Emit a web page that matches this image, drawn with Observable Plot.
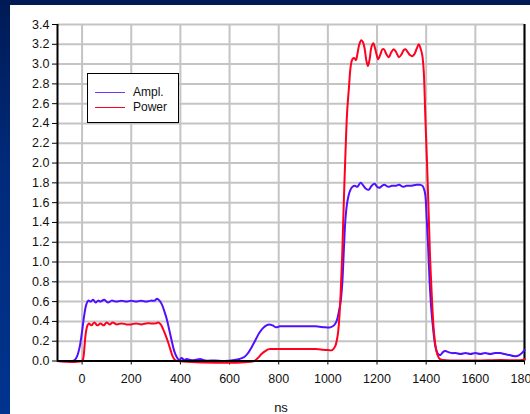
<!DOCTYPE html>
<html>
<head>
<meta charset="utf-8">
<script src="https://cdn.jsdelivr.net/npm/d3@7"></script>
<script src="https://cdn.jsdelivr.net/npm/@observablehq/plot@0.6"></script>
<style>
  html, body { margin: 0; padding: 0; }
  body {
    width: 530px; height: 414px; overflow: hidden; position: relative;
    background: linear-gradient(180deg, #001a55 0%, #002a7a 40%, #00348f 100%);
    font-family: "Liberation Sans", Arial, sans-serif;
  }
  #panel { position: absolute; left: 10px; top: 5px; width: 520px; height: 409px; background: white; overflow: visible; }
  #xlabel { position: absolute; left: 231px; top: 400px; width: 100px; text-align: center; font-size: 13px; line-height: 16px; color: #111; }
  #legend { position: absolute; left: 87px; top: 73px; width: 92px; height: 50px; box-sizing: border-box; border: 1.5px solid #000; background: white; }
  .lg-line { position: absolute; left: 7px; width: 30px; height: 1.5px; }
  .lg-text { position: absolute; left: 45px; font-size: 12px; line-height: 14px; color: #111; }
</style>
</head>
<body>
<div id="panel"></div>
<div id="legend">
  <div class="lg-line" style="top:17.5px;background:#6a3cff"></div>
  <div class="lg-text" style="top:11px">Ampl.</div>
  <div class="lg-line" style="top:32.5px;background:#ff0020"></div>
  <div class="lg-text" style="top:26px">Power</div>
</div>
<div id="xlabel">ns</div>
<script>
// Tick labels
const xTicks = [0, 200, 400, 600, 800, 1000, 1200, 1400, 1600, 1800];
const yTicks = [0, 0.2, 0.4, 0.6, 0.8, 1.0, 1.2, 1.4, 1.6, 1.8, 2.0, 2.2, 2.4, 2.6, 2.8, 3.0, 3.2, 3.4];

// Ampl. series (time in ns, value)
const amplNs = [-100,-40,-30,-20,-10,0,8,17,25,35,45,55,65,75,90,105,120,140,160,180,200,220,240,260,280,295,305,315,325,335,345,355,365,375,385,395,405,415,425,440,460,480,500,540,580,620,640,660,675,690,705,720,735,750,762,775,790,805,850,900,950,990,1010,1025,1035,1045,1052,1059,1065,1072,1080,1090,1100,1110,1120,1133,1145,1155,1166,1178,1190,1200,1210,1220,1230,1245,1260,1275,1290,1305,1320,1340,1360,1375,1385,1395,1402,1408,1414,1420,1426,1433,1440,1448,1458,1468,1478,1490,1505,1520,1540,1560,1580,1600,1620,1640,1660,1680,1700,1720,1740,1755,1770,1785,1800];
const amplValues = [0,0,0.01,0.05,0.14,0.3,0.45,0.57,0.61,0.6,0.62,0.59,0.61,0.6,0.62,0.59,0.61,0.6,0.61,0.6,0.61,0.6,0.61,0.6,0.61,0.61,0.63,0.61,0.57,0.5,0.42,0.31,0.2,0.1,0.04,0.01,0.03,0.01,0.02,0.01,0.01,0.02,0.005,0.005,0,0.01,0.02,0.04,0.08,0.14,0.21,0.28,0.33,0.36,0.37,0.36,0.34,0.35,0.35,0.35,0.35,0.34,0.34,0.36,0.40,0.50,0.6,0.8,1.12,1.45,1.62,1.72,1.76,1.77,1.76,1.80,1.77,1.74,1.73,1.77,1.79,1.76,1.75,1.77,1.78,1.76,1.77,1.77,1.78,1.76,1.77,1.77,1.78,1.78,1.77,1.70,1.45,1.15,0.8,0.55,0.38,0.22,0.12,0.07,0.06,0.09,0.10,0.09,0.08,0.08,0.07,0.08,0.07,0.08,0.07,0.08,0.07,0.08,0.08,0.07,0.06,0.05,0.05,0.07,0.11];

// Power series (time in ns, value)
const powerNs = [-100,0,5,10,15,22,28,38,50,62,75,88,100,112,125,140,160,180,200,220,240,260,280,300,310,320,330,340,350,360,368,378,390,700,715,730,745,760,780,800,850,900,950,1000,1018,1030,1040,1045,1052,1059,1065,1072,1078,1086,1093,1100,1108,1114,1120,1128,1136,1143,1150,1157,1163,1170,1177,1185,1193,1200,1205,1214,1222,1228,1238,1248,1258,1268,1278,1289,1300,1308,1316,1325,1335,1343,1352,1362,1370,1377,1384,1390,1397,1404,1410,1415,1420,1426,1431,1438,1445,1455,1470,1500,1600,1700,1790,1800];
const powerValues = [0,0,0.03,0.15,0.28,0.36,0.38,0.36,0.39,0.36,0.38,0.36,0.39,0.37,0.39,0.37,0.38,0.37,0.37,0.38,0.37,0.38,0.38,0.38,0.39,0.37,0.32,0.26,0.19,0.11,0.05,0.01,0,0,0.03,0.07,0.10,0.12,0.12,0.12,0.12,0.12,0.12,0.11,0.11,0.15,0.26,0.38,0.68,1.12,1.62,2.13,2.5,2.77,2.98,3.05,3.06,3.04,3.10,3.20,3.24,3.22,3.15,3.03,2.98,3.05,3.17,3.21,3.15,3.08,3.05,3.10,3.15,3.15,3.10,3.07,3.12,3.15,3.12,3.07,3.10,3.14,3.15,3.12,3.09,3.08,3.10,3.16,3.20,3.16,3.09,2.93,2.43,1.96,1.5,1.1,0.81,0.5,0.31,0.15,0.07,0.02,0.01,0.005,0.005,0.01,0.01,0.02];

const ampl = amplNs.map((t, i) => ({t, v: amplValues[i]}));
const power = powerNs.map((t, i) => ({t, v: powerValues[i]}));

const chart = Plot.plot({
  width: 520,
  height: 409,
  marginLeft: 47,
  marginRight: 6,
  marginTop: 19,
  marginBottom: 53.5,
  style: {background: "white", color: "#111", fontFamily: "'Liberation Sans', Arial, sans-serif", fontSize: "12.5px", overflow: "visible"},
  x: {domain: [-100, 1800], label: null},
  y: {domain: [0, 3.4], label: null},
  marks: [
    Plot.gridX(xTicks, {stroke: "#c4c4c4", strokeOpacity: 1, strokeWidth: 2}),
    Plot.gridY(yTicks, {stroke: "#c4c4c4", strokeOpacity: 1, strokeWidth: 2}),
    Plot.axisX(xTicks, {tickSize: 4, tickPadding: 9, tickFormat: d => String(d), stroke: "#000"}),
    Plot.axisY(yTicks, {tickSize: 5, tickPadding: 3, tickFormat: d3.format(".1f"), stroke: "#000"}),
    Plot.ruleX([1800], {stroke: "#000", strokeWidth: 2}),
    Plot.line(ampl, {x: "t", y: "v", stroke: "#5010ff", strokeWidth: 2, curve: "catmull-rom"}),
    Plot.line(power, {x: "t", y: "v", stroke: "#ff0020", strokeWidth: 2, curve: "catmull-rom"}),
    Plot.ruleX([-100], {stroke: "#000", strokeWidth: 2}),
    Plot.ruleY([0], {stroke: "#000", strokeWidth: 2})
  ]
});
document.getElementById("panel").appendChild(chart);
</script>
</body>
</html>
